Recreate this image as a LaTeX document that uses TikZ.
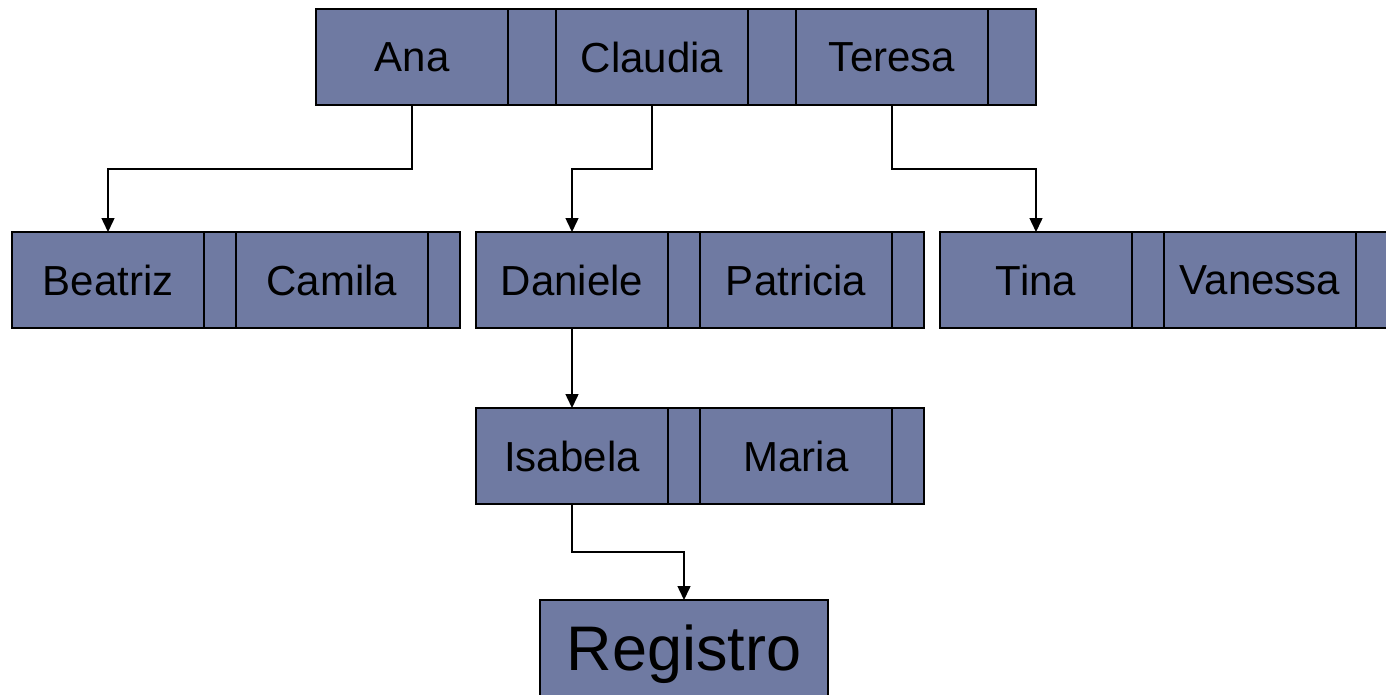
\documentclass[tikz,border=0pt]{standalone}
\usepackage{fontspec}
\setmainfont{Liberation Sans}
\usetikzlibrary{positioning,arrows.meta}
\definecolor{cellblue}{HTML}{6F7AA2}
\tikzstyle{key}=[draw=black, fill=cellblue, line width=1.3pt, minimum width=192pt,
minimum height=96pt, inner sep=0pt, outer sep=0pt, text depth=0pt,
font=\fontsize{42}{42}\selectfont]
\tikzstyle{ptr}=[draw=black, fill=cellblue, line width=1.3pt, minimum width=32pt,
minimum height=96pt, inner sep=0pt, outer sep=0pt]
\tikzstyle{link}=[line width=1.5pt, -{Triangle[length=14pt,width=13pt]}]

\begin{document}
\begin{tikzpicture}[x=1pt,y=1pt]
\useasboundingbox (0,0) rectangle (1386,-695);
% root page
\node[key](ana) at (412,-57){Ana};
\node[ptr, minimum width=48pt, right=0pt of ana](anap){};
\node[key, right=0pt of anap](claudia){Claudia};
\node[ptr, minimum width=48pt, right=0pt of claudia](claudiap){};
\node[key, right=0pt of claudiap](teresa){Teresa};
\node[ptr, minimum width=48pt, right=0pt of teresa](teresap){};
% second level
\node[key](beatriz) at (108,-280){Beatriz};
\node[ptr, right=0pt of beatriz](beatrizp){};
\node[key, right=0pt of beatrizp](camila){Camila};
\node[ptr, right=0pt of camila](camilap){};
\node[key](daniele) at (572,-280){Daniele};
\node[ptr, right=0pt of daniele](danielep){};
\node[key, right=0pt of danielep](patricia){Patricia};
\node[ptr, right=0pt of patricia](patriciap){};
\node[key](tina) at (1036,-280){Tina};
\node[ptr, right=0pt of tina](tinap){};
\node[key, right=0pt of tinap](vanessa){Vanessa};
\node[ptr, right=0pt of vanessa](vanessap){};
% third level
\node[key](isabela) at (572,-456){Isabela};
\node[ptr, right=0pt of isabela](isabelap){};
\node[key, right=0pt of isabelap](maria){Maria};
\node[ptr, right=0pt of maria](mariap){};
% record
\node[key, minimum width=288pt, font=\fontsize{63}{63}\selectfont](registro) at (684,-648){Registro};
\draw[link](ana.south) -- ++(0,-64) -| (beatriz.north);
\draw[link](claudia.south) -- ++(0,-64) -| (daniele.north);
\draw[link](teresa.south) -- ++(0,-64) -| (tina.north);
\draw[link](daniele.south) -- (isabela.north);
\draw[link](isabela.south) -- ++(0,-48) -| (registro.north);
\end{tikzpicture}
\end{document}
